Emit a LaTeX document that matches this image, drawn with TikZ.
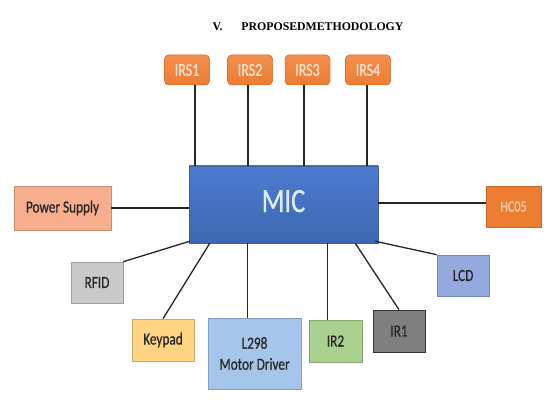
\documentclass[tikz,border=0pt]{standalone}
\usepackage{fontspec}
\newfontfamily\boxfont{Carlito}[FakeStretch=0.78, FakeBold=0.6]
\newfontfamily\titlefont{Liberation Serif}
\usetikzlibrary{calc}

\definecolor{irsorange}{HTML}{ED7D31}
\definecolor{irstop}{HTML}{F38F4F}
\definecolor{micblue}{HTML}{4472C4}
\definecolor{mictop}{HTML}{4C7BD0}
\definecolor{powerfill}{HTML}{F7AE8E}
\definecolor{rfidfill}{HTML}{C9C9C9}
\definecolor{keyfill}{HTML}{FFD584}
\definecolor{motorfill}{HTML}{A5C5EA}
\definecolor{irtwofill}{HTML}{A9D18E}
\definecolor{ironefill}{HTML}{7F7F7F}
\definecolor{lcdfill}{HTML}{95AADF}
\definecolor{boxtext}{HTML}{262626}

\tikzset{
 unitbox/.style={draw=#1!80!black, fill=#1, line width=.6pt, text=boxtext,
   font=\boxfont\fontsize{17}{20}\selectfont, align=center, inner sep=0},
 irsbox/.style={draw=irsorange!85!black, top color=irstop, bottom color=irsorange,
   rounded corners=4pt, line width=.5pt, minimum width=45, minimum height=30,
   text={rgb,255:red,253;green,228;blue,210}, font=\boxfont\fontsize{18}{20}\selectfont, inner sep=0},
 wire/.style={black!85, line width=1.3pt}
}

\begin{document}
\begin{tikzpicture}[x=1pt,y=-1pt]
\useasboundingbox (0,0) rectangle (554,403);
\node[font=\titlefont\bfseries\fontsize{11.8}{14}\selectfont, anchor=base west] (title) at (209,31)
  {V.\hspace{19pt}PROPOSEDMETHODOLOGY};

\node[draw=micblue!85!black, top color=mictop, bottom color=micblue!90!black, line width=.5pt,
  minimum width=189, minimum height=77, inner sep=0,
  text={rgb,255:red,222;green,236;blue,250}, font=\boxfont\fontsize{34}{36}\selectfont] (mic) at (283.5,204.5) {\raisebox{7pt}{MIC}};

\foreach \i/\x/\d in {1/187/8, 2/250/-2, 3/307.5/-3.5, 4/368/-1} {
 \node[irsbox] (irs\i) at (\x,70) {IRS\i};
 \draw[wire] ([xshift=\d pt]irs\i.south) -- ([xshift=\d pt]irs\i.south |- mic.north);
}

\node[unitbox=powerfill, minimum width=97, minimum height=44] (power) at (62.5,208) {\raisebox{2pt}{Power Supply}};
\node[unitbox=irsorange, draw=irsorange!85!black, minimum width=55, minimum height=41,
  text={rgb,255:red,251;green,211;blue,180}, font=\boxfont\fontsize{15.5}{17}\selectfont] (hc05) at (513.5,206.5) {HC05};
\node[unitbox=rfidfill, minimum width=52, minimum height=41] (rfid) at (97,282.5) {RFID};
\node[unitbox=keyfill, minimum width=62, minimum height=42] (keypad) at (163,340) {Keypad};
\node[unitbox=motorfill, minimum width=93, minimum height=71] (motor) at (254.5,353.5) {L298\\[1pt]Motor Driver};
\node[unitbox=irtwofill, minimum width=53, minimum height=42] (irtwo) at (335.5,341) {IR2};
\node[unitbox=ironefill, draw=black!80, minimum width=52, minimum height=42] (irone) at (399,331) {IR1};
\node[unitbox=lcdfill, minimum width=52, minimum height=41] (lcd) at (463,275.5) {LCD};

\draw[wire] (power.east) -- (power.east -| mic.west);
\draw[wire] ([yshift=3.5pt]hc05.west) -- ([yshift=3.5pt]hc05.west -| mic.east);
\draw[wire] (rfid.north east) -- ([shift={(1pt,2pt)}]mic.south west);
\draw[wire] (keypad.north) -- ([xshift=21pt]mic.south west);
\draw[wire] ([xshift=-7pt]motor.north) -- ([xshift=-7pt]motor.north |- mic.south);
\draw[wire] ([xshift=-8pt]irtwo.north) -- ([xshift=-8pt]irtwo.north |- mic.south);
\draw[wire] (irone.north) -- ([xshift=-23pt]mic.south east);
\draw[wire] (lcd.north west) -- ([shift={(-3pt,2pt)}]mic.south east);
\end{tikzpicture}
\end{document}
